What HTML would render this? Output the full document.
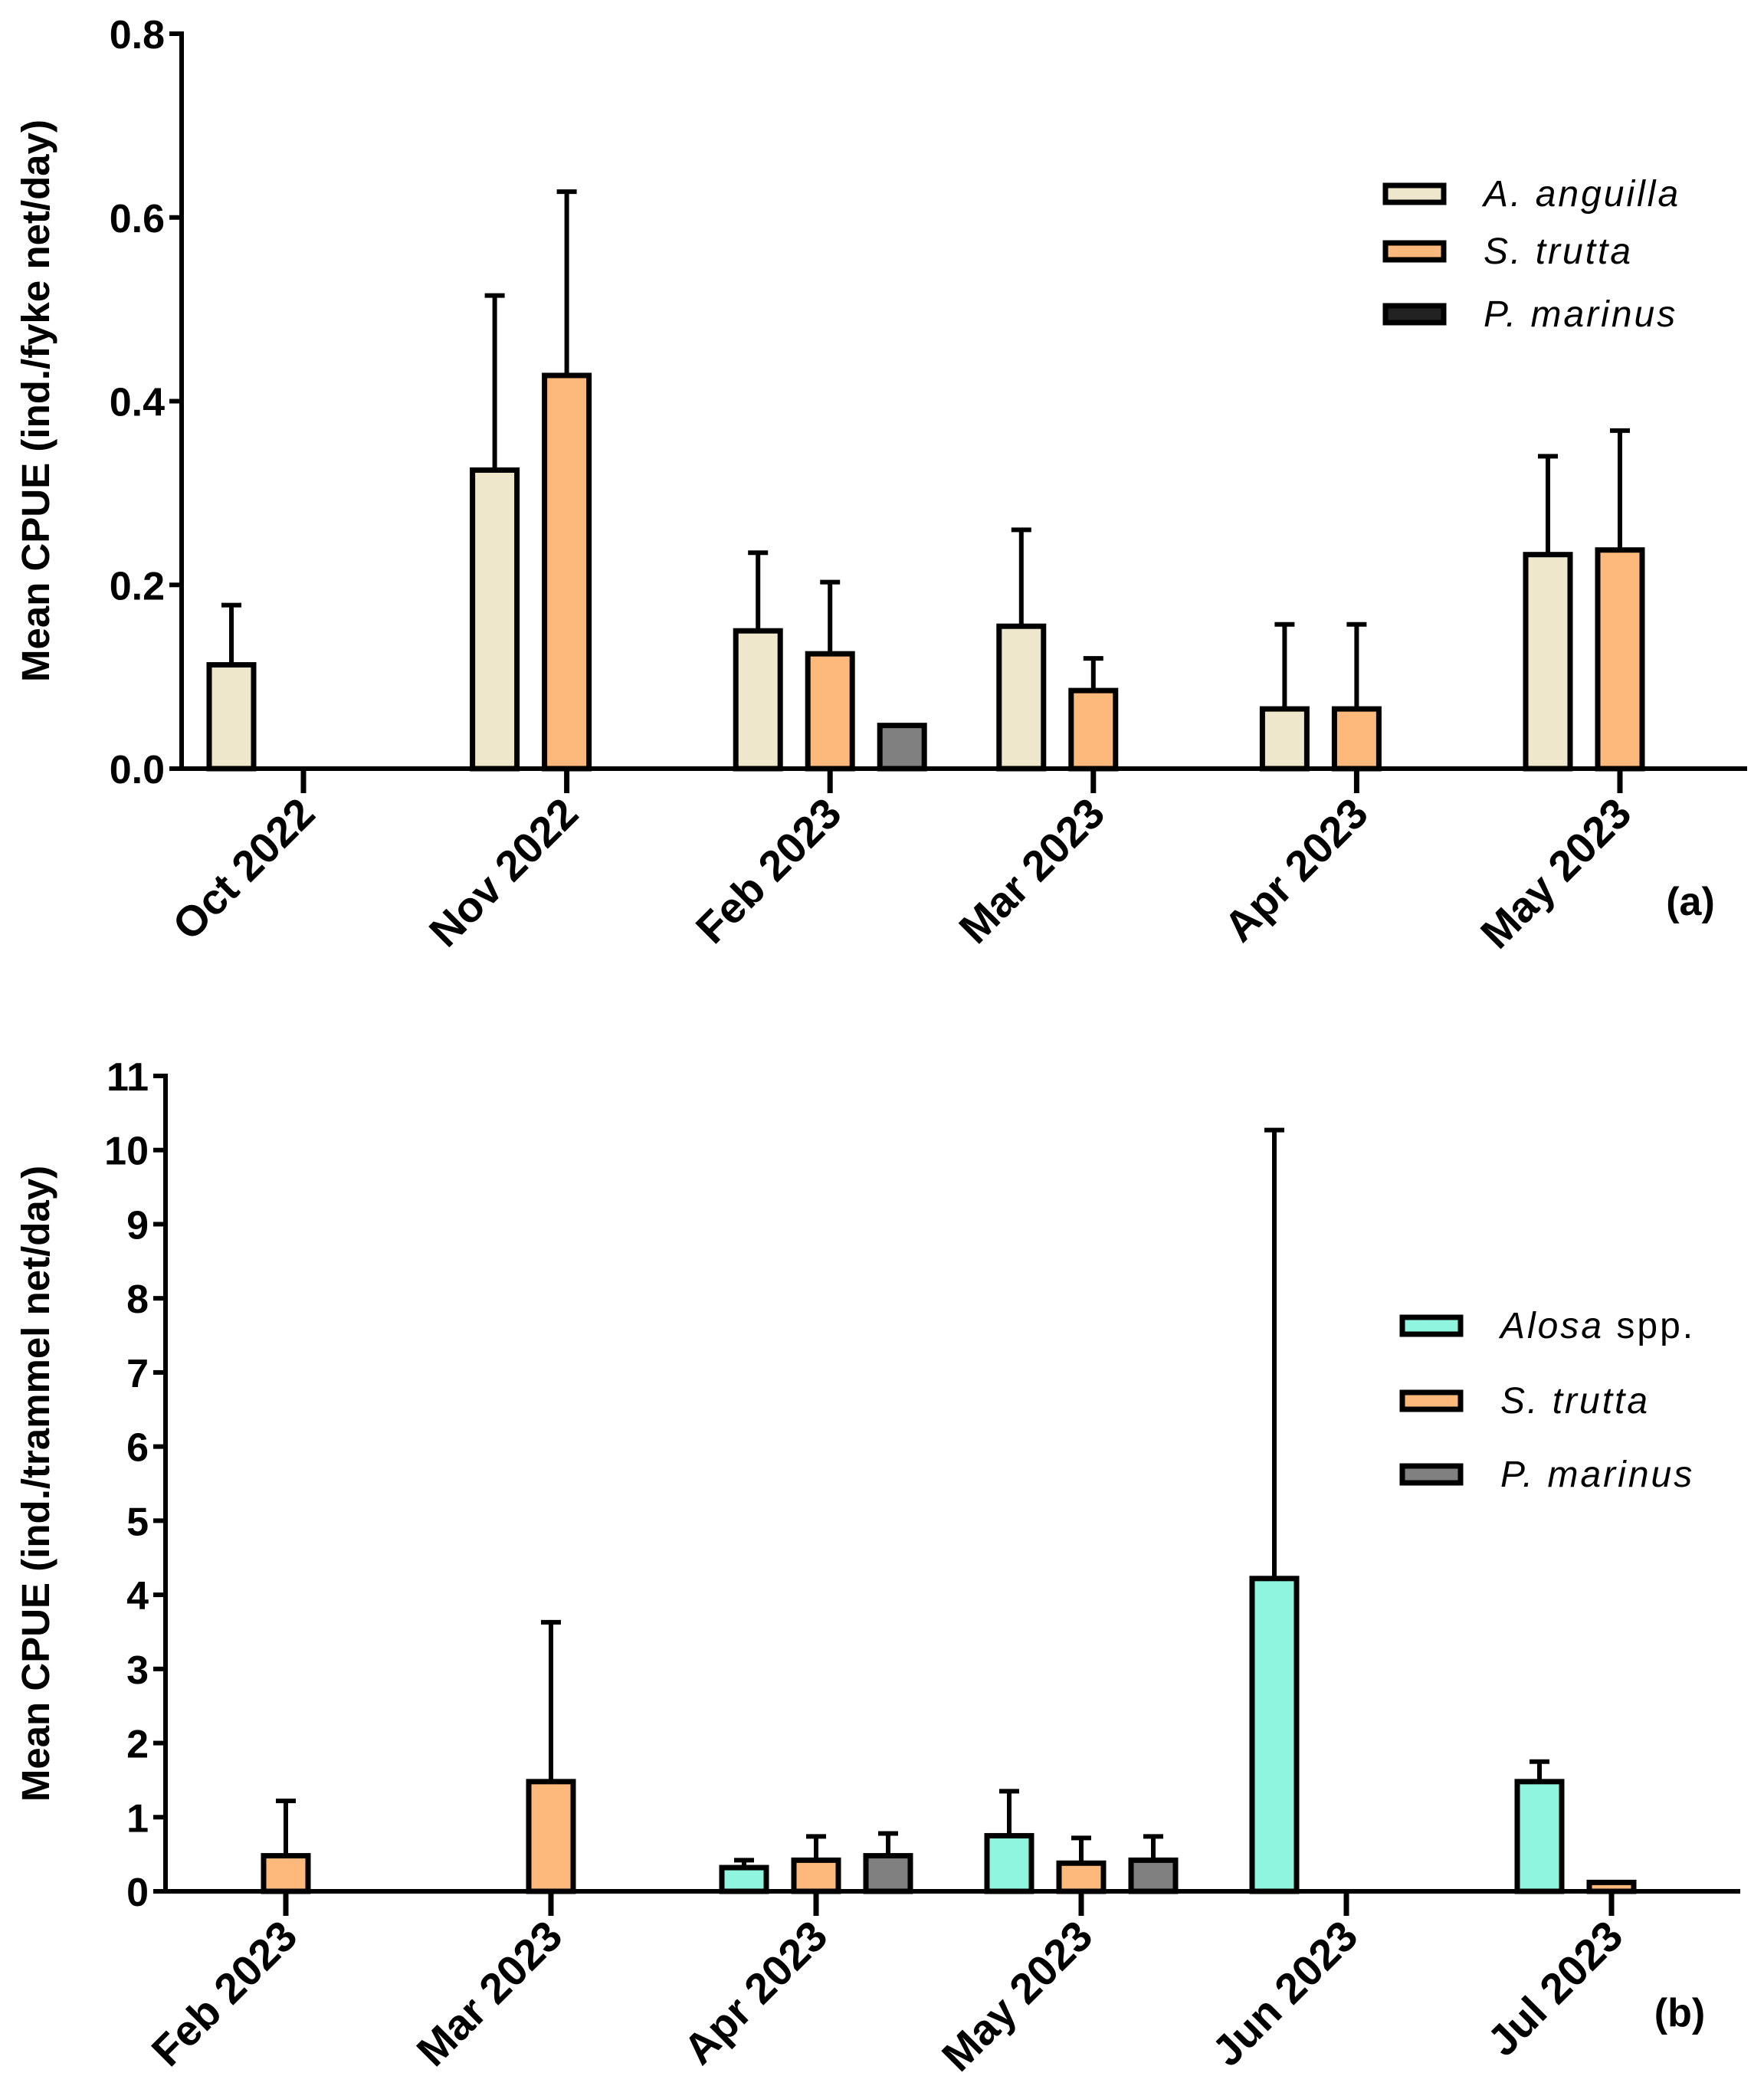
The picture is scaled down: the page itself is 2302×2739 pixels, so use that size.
<!DOCTYPE html>
<html><head><meta charset="utf-8"><style>body{margin:0;background:#fff}svg{display:block}text{font-family:"Liberation Sans",sans-serif}</style></head>
<body>
<svg id="chart" width="2302" height="2739" viewBox="0 0 2302 2739" xmlns="http://www.w3.org/2000/svg"></svg>
<script>
const catsA = ["Oct 2022","Nov 2022","Feb 2023","Mar 2023","Apr 2023","May 2023"];
const angA = [0.113,0.325,0.15,0.155,0.065,0.233];
const angErrA = [0.178,0.515,0.235,0.26,0.157,0.34];
const truA = [0,0.428,0.125,0.085,0.065,0.238];
const truErrA = [0,0.628,0.203,0.12,0.157,0.368];
const marA = [0,0,0.047,0,0,0];
const marErrA = [0,0,0,0,0,0];
const ticksA = ["0.0","0.2","0.4","0.6","0.8"];
const tickValsA = [0,0.2,0.4,0.6,0.8];

const catsB = ["Feb 2023","Mar 2023","Apr 2023","May 2023","Jun 2023","Jul 2023"];
const alosaB = [0,0,0.32,0.75,4.22,1.48];
const alosaErrB = [0,0,0.42,1.35,10.27,1.75];
const truB = [0.48,1.48,0.42,0.38,0,0.12];
const truErrB = [1.22,3.63,0.74,0.72,0,0];
const marB = [0,0,0.48,0.42,0,0];
const marErrB = [0,0,0.78,0.74,0,0];
const tickValsB = [0,1,2,3,4,5,6,7,8,9,10,11];

const NS="http://www.w3.org/2000/svg";
const svg=document.getElementById('chart');
function mk(tag,attrs,parent){const e=document.createElementNS(NS,tag);for(const k in attrs)e.setAttribute(k,attrs[k]);(parent||svg).appendChild(e);return e;}

function panel(cfg){
  const g=mk('g',{});
  
  
  const y=v=>cfg.y0-(v-0)/(cfg.ymax)*(cfg.y0-cfg.ytop);
  const x=i=>cfg.xt0+i*cfg.step;
  cfg.series.forEach((s,si)=>{
    s.vals.forEach((v,i)=>{
      const cx=x(i)+(si-1)*94;
      if(s.err[i]>v){
        const l=mk('line',{x1:cx,x2:cx,y1:y(v),y2:y(s.err[i]),stroke:'#000','stroke-width':6},g);
        
        
        const c=mk('line',{x1:cx-13,x2:cx+13,y1:y(s.err[i]),y2:y(s.err[i]),stroke:'#000','stroke-width':6},g);
        
        
      }
      if(v>0){
        const r=mk('rect',{x:cx-29,y:y(v),width:58,height:cfg.y0-y(v),fill:s.color,stroke:'#000','stroke-width':7},g);
        
        
      }
    });
  });
  const ya=mk('line',{x1:cfg.ax,x2:cfg.ax,y1:cfg.ytop-3,y2:cfg.y0+3,stroke:'#000','stroke-width':6},g);
  
  
  const xa=mk('line',{x1:cfg.ax-3,x2:cfg.xend,y1:cfg.y0,y2:cfg.y0,stroke:'#000','stroke-width':6},g);
  
  
  cfg.ticks.forEach((tv,i)=>{
    mk('line',{x1:cfg.ax-16,x2:cfg.ax,y1:y(tv),y2:y(tv),stroke:'#000','stroke-width':6},g);
    const t=mk('text',{x:cfg.ax-22,y:y(tv)+19,'text-anchor':'end','font-size':52,'font-weight':'bold'},g);
    t.textContent=cfg.tickLabels[i];
    
    
  });
  cfg.cats.forEach((c,i)=>{
    mk('line',{x1:x(i),x2:x(i),y1:cfg.y0,y2:cfg.y0+32,stroke:'#000','stroke-width':7},g);
    const t=mk('text',{x:x(i)+18,y:cfg.y0+62,'text-anchor':'end','font-size':56,'font-weight':'bold',transform:`rotate(-45 ${x(i)+18} ${cfg.y0+62})`},g);
    t.textContent=c;
    
    
  });
  const yt=mk('text',{x:0,y:0,'text-anchor':'middle','font-size':51,'font-weight':'bold',transform:`translate(64 ${cfg.ytc}) rotate(-90)`},g);
  yt.textContent=cfg.ytitle;
  
  
  const pl=mk('text',{x:cfg.plx,y:cfg.ply,'text-anchor':'middle','font-size':52,'font-weight':'bold'},g);
  pl.textContent=cfg.plabel;
  
  
  cfg.series.forEach((s,si)=>{
    const ly=cfg.legY[si];
    const r=mk('rect',{x:cfg.legX,y:ly-11,width:76,height:22,fill:s.legColor||s.color,stroke:'#000','stroke-width':7},g);
    
    
    const t=mk('text',{x:cfg.legX+128,y:ly+16,'font-size':48,'letter-spacing':3},g);
    
    
    const it=mk('tspan',{'font-style':'italic'},t);it.textContent=s.label;
    if(s.suffix){const sp=mk('tspan',{},t);sp.textContent=s.suffix;}
  });
}
panel({name:'panel-a',ax:237,ytop:44,y0:1003,ymax:0.8,xt0:396,step:343.6,xend:2280,cats:catsA,ticks:tickValsA,tickLabels:ticksA,
  ytitle:'Mean CPUE (ind./fyke net/day)',ytc:523,plabel:'(a)',plx:2206,ply:1194,legX:1808,legY:[253,328,410],
  series:[{key:'a-anguilla',label:'A. anguilla',color:'#efe7cb',vals:angA,err:angErrA},
          {key:'s-trutta',label:'S. trutta',color:'#fdb97b',vals:truA,err:truErrA},
          {key:'p-marinus',label:'P. marinus',color:'#808080',legColor:'#222',vals:marA,err:marErrA}]});
panel({name:'panel-b',ax:216,ytop:1404,y0:2468,ymax:11,xt0:373,step:346,xend:2271,cats:catsB,ticks:tickValsB,tickLabels:tickValsB.map(String),
  ytitle:'Mean CPUE (ind./trammel net/day)',ytc:1936,plabel:'(b)',plx:2192,ply:2644,legX:1830,legY:[1730,1828,1924],
  series:[{key:'alosa',label:'Alosa',suffix:' spp.',color:'#8ff5df',vals:alosaB,err:alosaErrB},
          {key:'s-trutta',label:'S. trutta',color:'#fdb97b',vals:truB,err:truErrB},
          {key:'p-marinus',label:'P. marinus',color:'#808080',vals:marB,err:marErrB}]});
</script>
</body></html>
